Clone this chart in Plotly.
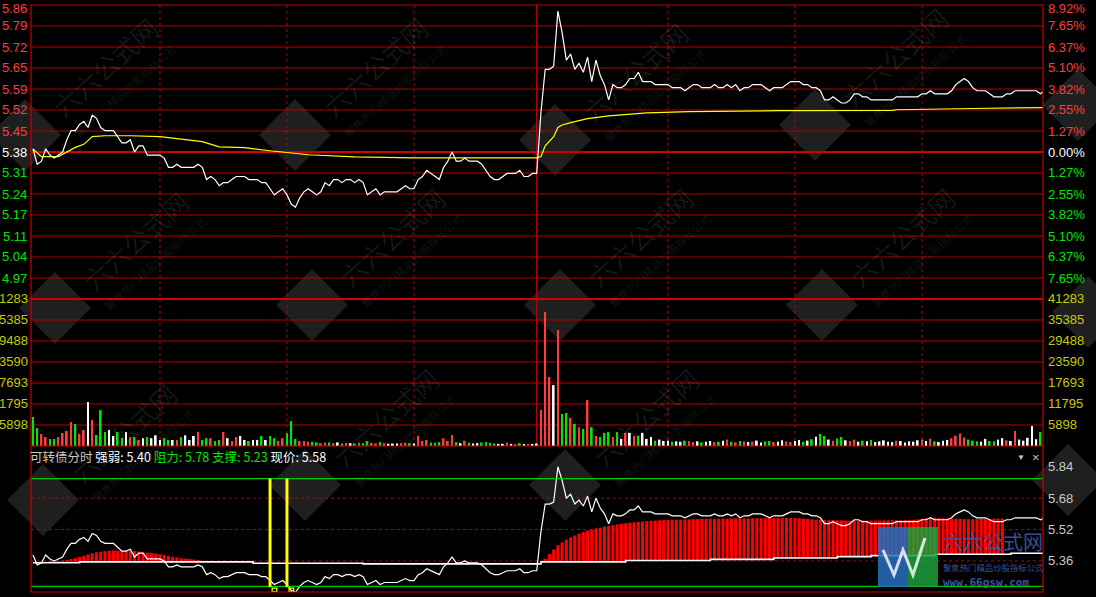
import plotly.graph_objects as go

# ---------------- data ----------------
prev_close = 5.38
minutes = list(range(240))
price = [
    5.39, 5.34, 5.35, 5.39, 5.37, 5.36, 5.37, 5.38, 5.42, 5.45,
    5.45, 5.47, 5.48, 5.46, 5.50, 5.49, 5.46, 5.45, 5.45, 5.45,
    5.43, 5.41, 5.41, 5.42, 5.38, 5.40, 5.40, 5.37, 5.37, 5.37,
    5.37, 5.36, 5.33, 5.33, 5.34, 5.33, 5.33, 5.33, 5.33, 5.34,
    5.33, 5.29, 5.30, 5.29, 5.27, 5.28, 5.28, 5.29, 5.30, 5.30,
    5.30, 5.29, 5.29, 5.29, 5.28, 5.28, 5.26, 5.24, 5.25, 5.26,
    5.24, 5.21, 5.20, 5.23, 5.25, 5.26, 5.25, 5.24, 5.25, 5.28,
    5.27, 5.29, 5.29, 5.28, 5.29, 5.29, 5.28, 5.29, 5.28, 5.24,
    5.25, 5.26, 5.24, 5.25, 5.25, 5.25, 5.25, 5.26, 5.27, 5.26,
    5.26, 5.29, 5.30, 5.32, 5.31, 5.30, 5.29, 5.33, 5.35, 5.38,
    5.35, 5.35, 5.36, 5.35, 5.35, 5.35, 5.34, 5.32, 5.30, 5.29,
    5.29, 5.30, 5.31, 5.31, 5.31, 5.32, 5.30, 5.30, 5.31, 5.31,
    5.51, 5.65, 5.65, 5.66, 5.84, 5.77, 5.68, 5.70, 5.65, 5.67,
    5.64, 5.69, 5.61, 5.68, 5.63, 5.60, 5.55, 5.60, 5.59, 5.59,
    5.60, 5.62, 5.62, 5.64, 5.61, 5.61, 5.61, 5.60, 5.60, 5.60,
    5.60, 5.59, 5.59, 5.59, 5.58, 5.59, 5.60, 5.60, 5.59, 5.59,
    5.59, 5.60, 5.59, 5.59, 5.60, 5.59, 5.60, 5.58, 5.59, 5.59,
    5.60, 5.60, 5.60, 5.59, 5.58, 5.59, 5.59, 5.59, 5.60, 5.61,
    5.61, 5.61, 5.60, 5.60, 5.59, 5.59, 5.58, 5.55, 5.55, 5.56,
    5.55, 5.54, 5.54, 5.55, 5.57, 5.57, 5.56, 5.56, 5.55, 5.55,
    5.55, 5.55, 5.55, 5.55, 5.56, 5.56, 5.56, 5.56, 5.56, 5.56,
    5.57, 5.57, 5.58, 5.57, 5.57, 5.57, 5.57, 5.58, 5.60, 5.61,
    5.62, 5.61, 5.59, 5.58, 5.58, 5.58, 5.57, 5.56, 5.56, 5.56,
    5.57, 5.57, 5.58, 5.58, 5.58, 5.58, 5.58, 5.58, 5.57, 5.58,
]
avg_min = [0, 2, 6, 10, 12, 14, 17, 23, 30, 34, 40, 44, 50, 56, 61, 65, 76, 90, 119,
           120, 121, 123, 124, 125, 127, 131, 136, 140, 145, 155, 176, 203, 204, 222, 236, 239]
avg_val = [5.39, 5.365, 5.365, 5.395, 5.405, 5.43, 5.433, 5.433, 5.43, 5.424, 5.414, 5.397,
           5.394, 5.384, 5.378, 5.371, 5.364, 5.361, 5.361,
           5.365, 5.40, 5.43, 5.46, 5.468, 5.476, 5.489, 5.498, 5.502, 5.508, 5.512, 5.515,
           5.516, 5.518, 5.522, 5.525, 5.525]
volume = [
    8150, 5060, 3370, 2530, 1970, 1970, 2530, 3650, 4200, 6740,
    6180, 3370, 4500, 12360, 7300, 3090, 10100, 3930, 4500, 2800,
    3900, 2250, 3900, 2500, 2500, 1700, 2200, 2500, 2200, 3000,
    1700, 2200, 1700, 1700, 1700, 2500, 3000, 1700, 2800, 4000,
    1700, 2200, 2200, 1400, 1700, 3900, 2200, 1400, 2500, 2800,
    1700, 1400, 1700, 1700, 2800, 1700, 2800, 2200, 1400, 2200,
    3600, 7000, 2000, 1400, 1400, 1200, 1200, 1000, 800, 1000,
    1000, 800, 1000, 700, 900, 800, 700, 900, 800, 1400,
    900, 700, 1100, 800, 600, 700, 700, 800, 900, 800,
    700, 2900, 1400, 1700, 1000, 900, 1100, 2200, 1400, 3100,
    1100, 800, 1500, 900, 700, 800, 1000, 1100, 900, 700,
    600, 600, 900, 500, 400, 800, 300, 400, 500, 700,
    10100, 37650, 19400, 17100, 32600, 9000, 9300, 7900, 6200, 5300,
    4800, 12900, 5300, 2800, 2500, 3700, 3900, 2500, 3900, 2000,
    3700, 3700, 2800, 2800, 3700, 2000, 2500, 1500, 1800, 1400,
    1500, 1200, 1300, 1200, 1500, 1400, 1100, 1300, 1000, 1200,
    1400, 1100, 1200, 1500, 1800, 1200, 1000, 1400, 1300, 1100,
    1200, 1500, 1000, 1300, 1400, 1100, 1200, 1600, 1300, 1100,
    1400, 1700, 1200, 1500, 1900, 2600, 3400, 2800, 1800, 1500,
    2100, 2500, 1600, 1400, 1800, 1200, 1500, 1300, 1700, 1100,
    1300, 1600, 1200, 1100, 1500, 1400, 1000, 1300, 1200, 1600,
    1800, 1400, 2000, 1300, 1100, 1500, 1700, 2200, 2900, 3500,
    2400, 1800, 1500, 1300, 1200, 2000, 1400, 1300, 1800, 2200,
    1600, 1400, 4200, 1800, 1500, 2300, 5600, 1900, 3900, 4200,
]
vol_dir_read = {
    0: "g", 1: "g", 2: "r", 3: "r", 4: "g", 5: "g", 6: "r", 7: "r", 8: "r", 9: "r", 10: "g",
    13: "w", 16: "g",
    111: "w", 112: "r", 113: "w", 114: "r", 115: "g", 116: "w", 117: "r", 118: "w", 119: "w",
    120: "r", 121: "r", 122: "r", 123: "w", 124: "r", 125: "g", 126: "g", 127: "r", 128: "g",
    129: "r", 130: "g", 131: "r", 132: "g", 133: "r", 134: "g", 135: "g", 136: "g", 137: "r",
    138: "g", 139: "w", 140: "r", 141: "w", 142: "r", 143: "g", 144: "w", 145: "w",
}
# strength bars (lower panel): minute, bar top
bar_min = list(range(4, 41)) + list(range(121, 240))
bar_top = [
    5.357, 5.358, 5.360, 5.362, 5.365, 5.370, 5.375, 5.381, 5.387, 5.393,
    5.399, 5.404, 5.407, 5.410, 5.412, 5.413, 5.413, 5.412, 5.411, 5.411,
    5.410, 5.408, 5.405, 5.402, 5.400, 5.398, 5.395, 5.391, 5.386, 5.382,
    5.378, 5.374, 5.372, 5.370, 5.367, 5.362, 5.357,
    5.372, 5.395, 5.418, 5.440, 5.455, 5.468, 5.480, 5.490, 5.500, 5.508,
    5.515, 5.520, 5.526, 5.530, 5.535, 5.538, 5.542, 5.546, 5.549, 5.552,
    5.555, 5.557, 5.559, 5.561, 5.563, 5.565, 5.566, 5.567, 5.568, 5.569,
    5.570, 5.571, 5.571, 5.572, 5.572, 5.573, 5.573, 5.574, 5.574, 5.575,
    5.575, 5.575, 5.576, 5.576, 5.576, 5.577, 5.577, 5.577, 5.577, 5.578,
    5.578, 5.578, 5.578, 5.578, 5.579, 5.579, 5.579, 5.579, 5.579, 5.579,
    5.578, 5.576, 5.574, 5.572, 5.570, 5.569, 5.568, 5.568, 5.568, 5.567,
    5.567, 5.566, 5.566, 5.566, 5.566, 5.566, 5.566, 5.566, 5.566, 5.566,
    5.567, 5.567, 5.568, 5.568, 5.568, 5.569, 5.569, 5.570, 5.572, 5.575,
    5.578, 5.580, 5.580, 5.579, 5.578, 5.577, 5.576, 5.575, 5.574, 5.573,
    5.573, 5.573, 5.574, 5.574, 5.575, 5.575, 5.576, 5.576, 5.576,
]
base_min = [0, 11, 52, 78, 120, 140, 160, 175, 190, 198, 213, 231, 239]
base_val = [5.351, 5.355, 5.348, 5.345, 5.355, 5.362, 5.368, 5.375, 5.382, 5.387, 5.394,
            5.399, 5.399]
sig_min = [56, 60]

strength, resist, support, last_price = 5.40, 5.78, 5.23, 5.58

pct_labels = ["8.92%", "7.65%", "6.37%", "5.10%", "3.82%", "2.55%", "1.27%", "0.00%",
              "1.27%", "2.55%", "3.82%", "5.10%", "6.37%", "7.65%"]
pct_signs = [1] * 7 + [0] + [-1] * 6
price_labels = ["5.86", "5.79", "5.72", "5.65", "5.59", "5.52", "5.45", "5.38",
                "5.31", "5.24", "5.17", "5.11", "5.04", "4.97"]
vol_labels = ["41283", "35385", "29488", "23590", "17693", "11795", "5898"]
vol_labels_left = ["1283", "5385", "9488", "3590", "7693", "1795", "5898"]
low_labels = ["5.84", "5.68", "5.52", "5.36"]
time_lines = [30, 60, 90, 150, 180, 210]
noon_line = 119

# ---------------- styling ----------------
RED = "#ff3c3c"
GRN = "#00e600"
GRID = "#b40000"
YEL_LAB = "#c8c800"
FONT = "Liberation Sans"
W, H, L, R, T, B = 1096, 597, 31, 53, 5, 5
PW, PH = W - L - R, H - T - B


def px(x):
    return (x - L) / PW


def py(y):
    return (H - B - y) / PH


pct_vals = [s * float(t.rstrip("%")) for s, t in zip(pct_signs, pct_labels)]
grid_prices = [prev_close * (1 + p / 100) for p in pct_vals]
p_hi = grid_prices[0]
p_lo = prev_close * (1 - pct_vals[0] / 100)
vol_vals = [float(v) for v in vol_labels]
v_hi = vol_vals[0]
low_vals = [float(v) for v in low_labels]
lo_range = [5.2016, 5.946]

d_vol_top = py(299)
d_low_top = py(446)

cmap = {"r": RED, "g": GRN, "w": "#ffffff"}
vol_colors = []
for i, v in enumerate(volume):
    if i in vol_dir_read:
        vol_colors.append(cmap[vol_dir_read[i]])
        continue
    prv = prev_close if i == 0 else price[i - 1]
    vol_colors.append(RED if price[i] > prv else (GRN if price[i] < prv else "#ffffff"))

base_lookup = {}
for k in range(len(base_min)):
    end = base_min[k + 1] if k + 1 < len(base_min) else 240
    for m in range(base_min[k], end):
        base_lookup[m] = base_val[k]
bar_base = [base_lookup[m] for m in bar_min]
bar_h = [t - b for t, b in zip(bar_top, bar_base)]

fig = go.Figure()
fig.add_trace(go.Bar(x=minutes, y=volume, marker_color=vol_colors, marker_line_width=0,
                     width=0.42, yaxis="y2", hoverinfo="skip"))
fig.add_trace(go.Bar(x=bar_min, y=bar_h, base=bar_base, marker_color="#ff0000",
                     marker_line_width=0, width=0.72, yaxis="y3", hoverinfo="skip"))
fig.add_trace(go.Scatter(x=avg_min, y=avg_val, mode="lines",
                         line=dict(color="#ffff00", width=1.2), yaxis="y", hoverinfo="skip"))
fig.add_trace(go.Scatter(x=minutes, y=price, mode="lines",
                         line=dict(color="#ffffff", width=1.2), yaxis="y", hoverinfo="skip"))
fig.add_trace(go.Scatter(x=base_min, y=base_val, mode="lines", line_shape="hv",
                         line=dict(color="#ffffff", width=1.6), yaxis="y3", hoverinfo="skip"))
fig.add_trace(go.Scatter(x=minutes, y=price, mode="lines",
                         line=dict(color="#ffffff", width=1.2), yaxis="y3", hoverinfo="skip"))

shapes = []
ann = []

# faint tiled watermark (logo diamonds + rotated site name)
wm_tiles = [(25, 135), (295, 135), (555, 140), (815, 125), (1078, 105),
            (55, 308), (312, 305), (560, 305), (822, 305), (1088, 312),
            (43, 500), (305, 485), (565, 485), (1068, 480)]
for cx, cy in wm_tiles:
    r = 36
    path = (f"M {px(cx)} {py(cy - r)} L {px(cx + r)} {py(cy)} L {px(cx)} {py(cy + r)} "
            f"L {px(cx - r)} {py(cy)} Z")
    shapes.append(dict(type="path", xref="paper", yref="paper", path=path,
                       fillcolor="rgba(255,255,255,0.12)", line_width=0, layer="below"))
    if cx + 150 > W:
        continue
    ann.append(dict(xref="paper", yref="paper", x=px(cx + 80), y=py(cy - 68), xanchor="center",
                    yanchor="middle", text="六六公式网", textangle=-42, showarrow=False,
                    font=dict(size=26, family="Noto Sans CJK SC", color="rgba(255,255,255,0.09)")))
    ann.append(dict(xref="paper", yref="paper", x=px(cx + 100), y=py(cy - 45), xanchor="center",
                    yanchor="middle", text="聚焦热门精品炒股指标公式", textangle=-42, showarrow=False,
                    font=dict(size=11, family="Noto Sans CJK SC", color="rgba(255,255,255,0.09)")))

for gp in grid_prices[1:]:
    shapes.append(dict(type="line", xref="paper", x0=0, x1=1, yref="y", y0=gp, y1=gp,
                       line=dict(color=GRID, width=1), layer="below"))
shapes.append(dict(type="line", xref="paper", x0=0, x1=1, yref="y", y0=prev_close, y1=prev_close,
                   line=dict(color="#d20000", width=2.2), layer="below"))
for vv in vol_vals[1:]:
    shapes.append(dict(type="line", xref="paper", x0=0, x1=1, yref="y2", y0=vv, y1=vv,
                       line=dict(color=GRID, width=1), layer="below"))
shapes.append(dict(type="line", xref="paper", x0=0, x1=1, yref="paper", y0=d_vol_top, y1=d_vol_top,
                   line=dict(color="#d20000", width=2.2)))
shapes.append(dict(type="line", xref="paper", x0=0, x1=1, yref="paper", y0=d_low_top, y1=d_low_top,
                   line=dict(color="#c80000", width=1.2)))
for t in time_lines:
    shapes.append(dict(type="line", xref="x", x0=t, x1=t, yref="paper", y0=d_low_top, y1=1,
                       line=dict(color=GRID, width=1, dash="dot"), layer="below"))
shapes.append(dict(type="line", xref="x", x0=noon_line, x1=noon_line, yref="paper", y0=d_low_top, y1=1,
                   line=dict(color="#c80000", width=1.2), layer="below"))
for lv in low_vals[1:]:
    shapes.append(dict(type="line", xref="paper", x0=0, x1=1, yref="y3", y0=lv, y1=lv,
                       line=dict(color=GRID, width=1, dash="dot"), layer="below"))
for lv in (resist, support):
    shapes.append(dict(type="line", xref="paper", x0=0, x1=1, yref="y3", y0=lv, y1=lv,
                       line=dict(color="#00c800", width=1.2)))
for s in sig_min:
    shapes.append(dict(type="rect", xref="x", x0=s - 0.35, x1=s + 0.35, yref="y3",
                       y0=support - 0.004, y1=resist, fillcolor="#ffff00", line_width=0))
    shapes.append(dict(type="rect", xref="x", x0=s + 0.5, x1=s + 1.6, yref="y3",
                       y0=5.204, y1=5.221, fillcolor="rgba(0,0,0,0)",
                       line=dict(color="#ffff00", width=1.3)))
shapes.append(dict(type="rect", xref="paper", yref="paper", x0=0, x1=1, y0=0, y1=1,
                   line=dict(color="#c80000", width=1.2)))
# site logo (lower right)
shapes.append(dict(type="rect", xref="paper", yref="paper", x0=px(878), x1=px(908),
                   y0=py(587), y1=py(527), fillcolor="rgba(40,110,190,0.85)", line_width=0))
shapes.append(dict(type="rect", xref="paper", yref="paper", x0=px(908), x1=px(938),
                   y0=py(587), y1=py(527), fillcolor="rgba(30,160,60,0.85)", line_width=0))
shapes.append(dict(type="path", xref="paper", yref="paper",
                   path=(f"M {px(883)} {py(550)} L {px(894)} {py(575)} L {px(903)} {py(550)} "
                         f"L {px(913)} {py(575)} L {px(925)} {py(538)}"),
                   line=dict(color="rgba(255,255,255,0.8)", width=3)))

for lab, gp in zip(price_labels, grid_prices):
    col = RED if gp > prev_close + 1e-9 else (GRN if gp < prev_close - 1e-9 else "#ffffff")
    ann.append(dict(xref="paper", x=0, xanchor="right", xshift=-2, yref="y", y=gp,
                    yshift=-3 if gp == grid_prices[0] else 0,
                    text=lab, showarrow=False, font=dict(color=col, size=13, family=FONT)))
for lab, gp in zip(pct_labels, grid_prices):
    col = RED if gp > prev_close + 1e-9 else (GRN if gp < prev_close - 1e-9 else "#ffffff")
    ann.append(dict(xref="paper", x=1, xanchor="left", xshift=3, yref="y", y=gp,
                    yshift=-3 if gp == grid_prices[0] else 0,
                    text=lab, showarrow=False, font=dict(color=col, size=13, family=FONT)))
for labl, lab, vv in zip(vol_labels_left, vol_labels, vol_vals):
    ann.append(dict(xref="paper", x=0, xanchor="right", xshift=-1, yref="y2", y=vv,
                    text=labl, showarrow=False, font=dict(color=YEL_LAB, size=13, family=FONT)))
    ann.append(dict(xref="paper", x=1, xanchor="left", xshift=3, yref="y2", y=vv,
                    text=lab, showarrow=False, font=dict(color=YEL_LAB, size=13, family=FONT)))
for lab, lv in zip(low_labels, low_vals):
    ann.append(dict(xref="paper", x=1, xanchor="left", xshift=3, yref="y3", y=lv,
                    text=lab, showarrow=False, font=dict(color="#c8c8c8", size=13, family=FONT)))
header = ("<span style='color:#c8c8c8'>可转债分时</span> "
          f"<span style='color:#ffffff'>强弱: {strength:.2f}</span> "
          f"<span style='color:{GRN}'>阻力: {resist:.2f}</span> "
          f"<span style='color:{GRN}'>支撑: {support:.2f}</span> "
          f"<span style='color:#ffffff'>现价: {last_price:.2f}</span>")
ann.append(dict(xref="paper", x=0, xanchor="left", xshift=-3, yref="paper", y=py(457),
                yanchor="middle", text=header, showarrow=False,
                font=dict(size=12.5, family="Noto Sans CJK SC", color="#c8c8c8")))
ann.append(dict(xref="paper", x=1, xanchor="right", xshift=-16, yref="paper", y=py(457),
                yanchor="middle", text="▼", showarrow=False, font=dict(size=8, color="#c8c8c8")))
ann.append(dict(xref="paper", x=1, xanchor="right", xshift=-2, yref="paper", y=py(457),
                yanchor="middle", text="×", showarrow=False, font=dict(size=13, color="#c8c8c8")))
# site name beside the logo, kept inside the plot area so it does not sit on the axis labels
ann.append(dict(xref="paper", yref="paper", x=px(941), y=py(541), xanchor="left",
                yanchor="middle", text="六六公式网", showarrow=False,
                font=dict(size=20, family="Noto Sans CJK SC", color="rgba(60,90,170,0.9)")))
ann.append(dict(xref="paper", yref="paper", x=px(941), y=py(567), xanchor="left",
                yanchor="middle", text="聚焦热门精品炒股指标公式", showarrow=False,
                font=dict(size=8.4, family="Noto Sans CJK SC", color="rgba(60,90,170,0.95)")))
ann.append(dict(xref="paper", yref="paper", x=px(941), y=py(582), xanchor="left",
                yanchor="middle", text="<b>www.66gsw.com</b>", showarrow=False,
                font=dict(size=11, family="DejaVu Sans Mono", color="rgba(60,90,170,0.95)")))

fig.update_layout(
    width=W, height=H,
    margin=dict(l=L, r=R, t=T, b=B, autoexpand=False),
    paper_bgcolor="#000000", plot_bgcolor="#000000",
    showlegend=False, barmode="overlay", hovermode=False,
    xaxis=dict(range=[-0.47, 238.6], showgrid=False, zeroline=False, showticklabels=False,
               ticks="", anchor="y3", fixedrange=True),
    yaxis=dict(domain=[d_vol_top, 1], range=[p_lo, p_hi], showgrid=False, zeroline=False,
               showticklabels=False, ticks=""),
    yaxis2=dict(domain=[d_low_top, d_vol_top], range=[0, v_hi], showgrid=False, zeroline=False,
                showticklabels=False, ticks=""),
    yaxis3=dict(domain=[0, d_low_top], range=lo_range, showgrid=False, zeroline=False,
                showticklabels=False, ticks=""),
    shapes=shapes, annotations=ann,
)
fig.write_html("out.html", config={"displayModeBar": False},
               post_script="document.body.style.margin='0';document.body.style.background='#000';")
